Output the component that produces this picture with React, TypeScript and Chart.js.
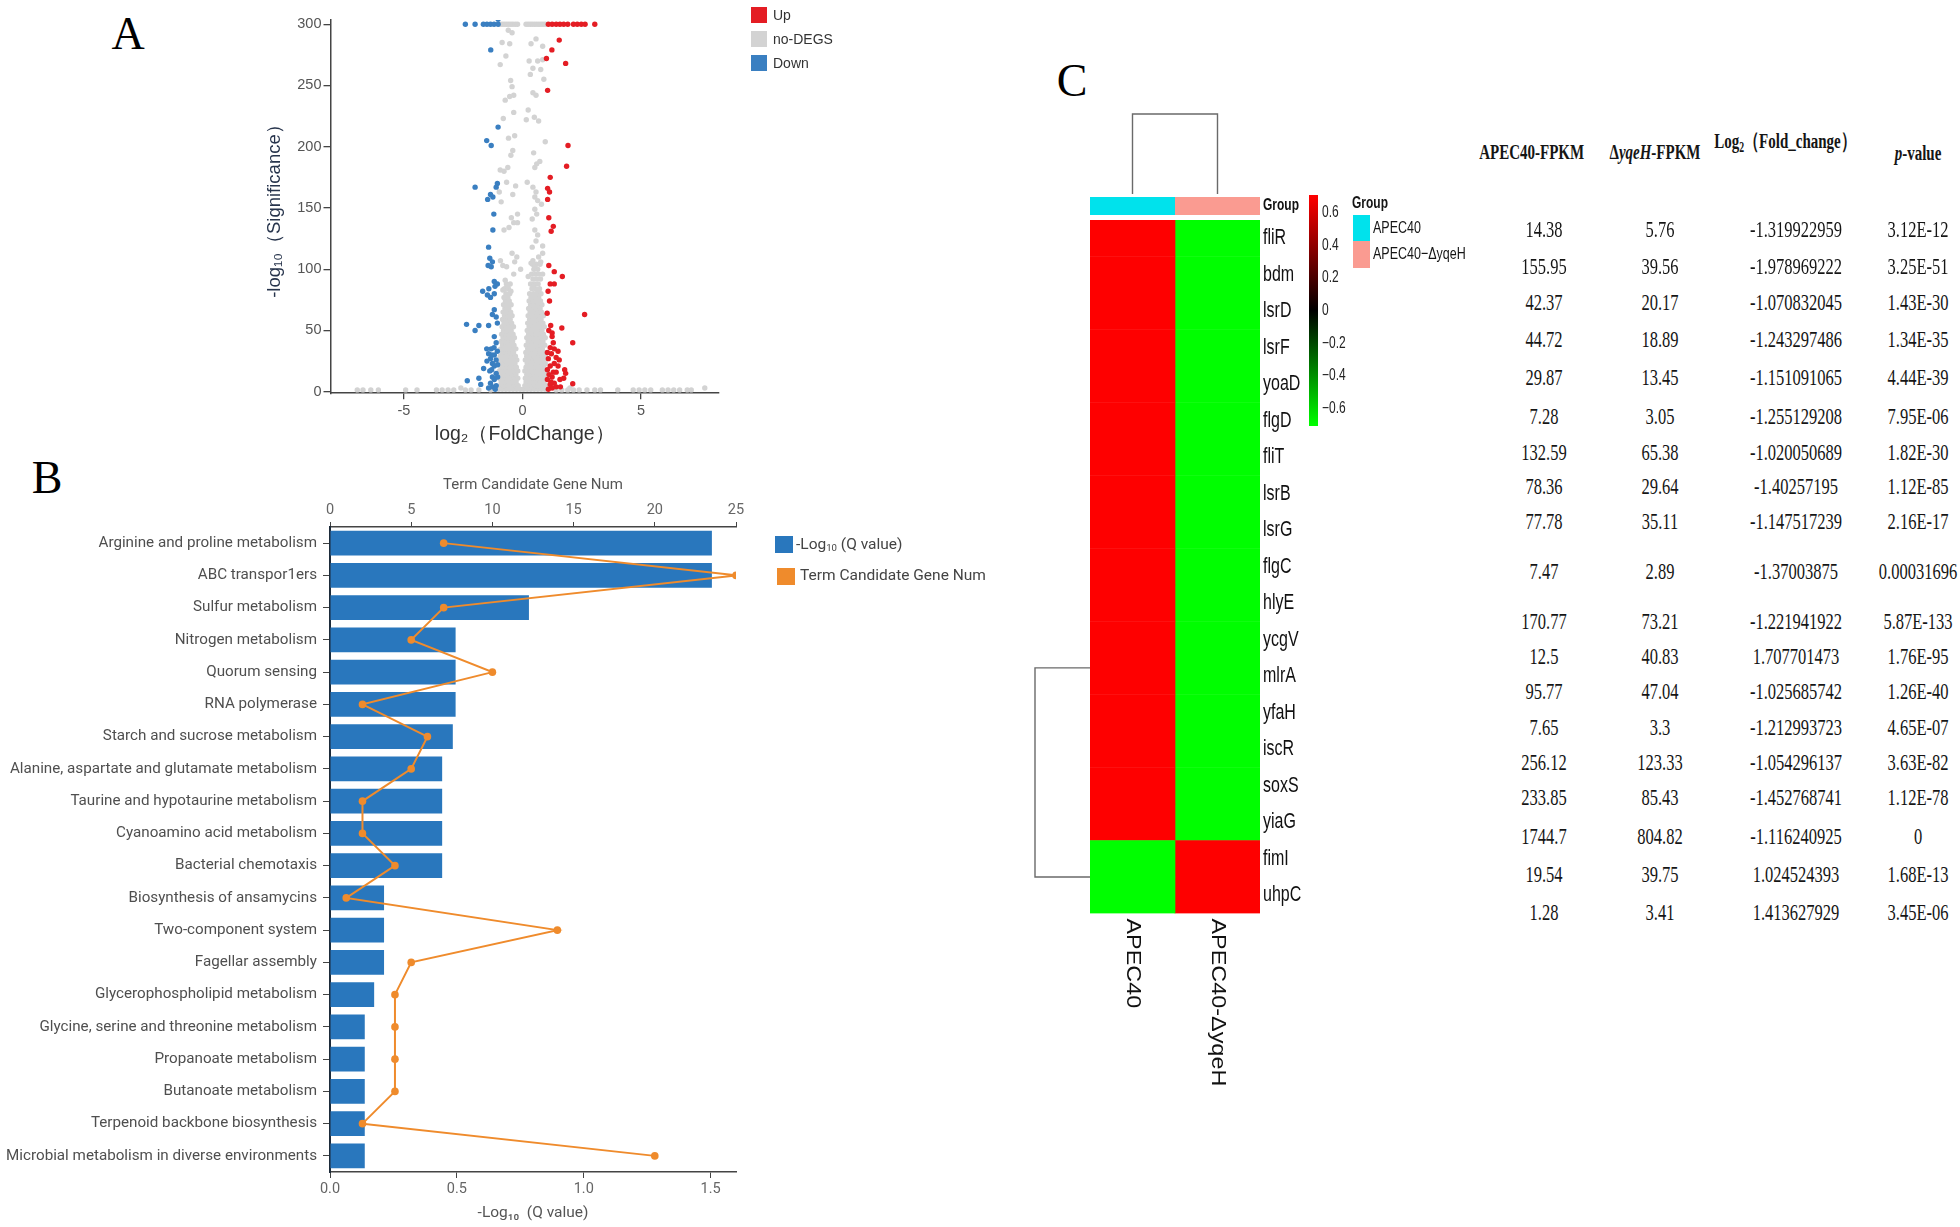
import React, { useEffect, useRef } from 'react';
import { Chart, registerables } from 'chart.js';

Chart.register(...registerables);

/* ================= Panel A : volcano plot ================= */
const volcanoLegend = ['Up', 'no-DEGS', 'Down'];
const volcanoXTicks = [-5, 0, 5];
const volcanoYTicks = [0, 50, 100, 150, 200, 250, 300];

const upPoints: [number, number][] = [
  [1.09, 300], [1.25, 300], [1.42, 300], [1.58, 300], [1.74, 300], [1.91, 300], [2.15, 300], [2.31, 300], [2.48, 300], [2.64, 300], [3.05, 300],
  [1.55, 287], [1.24, 279], [1.82, 268], [1.01, 272], [1.06, 246], [1.92, 201], [1.86, 184], [1.17, 175], [1.06, 166], [1.14, 163], [1.06, 157],
  [1.11, 142], [1.3, 135], [1.21, 131], [1.11, 103], [1.34, 98], [1.68, 94], [1.17, 88], [1.34, 88], [1.08, 82], [1.14, 74], [1.04, 64], [2.62, 63],
  [1.19, 54], [1.11, 50], [1.25, 48], [1.66, 52], [1.25, 45], [2.12, 40], [1.3, 40],
  [1.17, 36], [1.34, 35], [1.22, 31], [1.09, 27], [1.42, 28], [1.55, 26], [1.34, 23], [1.17, 21], [1.5, 21], [1.78, 18], [1.82, 15], [1.42, 16],
  [1.25, 12], [1.58, 10], [1.34, 7], [1.17, 6], [1.74, 11], [2.12, 6.5], [1.42, 4], [1.25, 3], [1.09, 2], [1.05, 10], [1.05, 18], [1.05, 32],
  [1.5, 33], [1.2, 8], [1.3, 16], [1.12, 14], [1.6, 4],
];

const downPoints: [number, number][] = [
  [-2.41, 300], [-2.0, 300], [-1.65, 300], [-1.5, 300], [-1.35, 300], [-1.2, 300], [-1.03, 300], [-1.03, 304],
  [-1.34, 279], [-1.03, 216], [-1.51, 205], [-1.32, 201], [-2.0, 167], [-1.06, 170], [-1.11, 167], [-1.35, 161], [-1.25, 159], [-1.47, 157],
  [-1.21, 145], [-1.25, 132], [-1.43, 118], [-1.38, 109], [-1.27, 106], [-1.45, 103], [-1.32, 102], [-1.19, 90], [-1.06, 88], [-1.16, 86],
  [-1.42, 84], [-1.68, 82], [-1.48, 79], [-1.19, 80], [-1.35, 77], [-1.19, 67], [-1.27, 63], [-1.11, 61], [-2.36, 55], [-1.84, 54], [-2.0, 50],
  [-1.43, 54], [-1.06, 56], [-1.19, 45], [-1.11, 40], [-1.51, 35], [-1.32, 35], [-1.06, 33], [-1.43, 31], [-1.19, 30], [-1.35, 27], [-1.11, 26],
  [-1.27, 23], [-1.64, 19], [-1.19, 21], [-1.38, 17], [-1.11, 15], [-1.27, 12], [-1.84, 11], [-2.33, 9], [-1.19, 10], [-1.35, 7], [-1.76, 6],
  [-1.11, 5], [-1.27, 4], [-1.43, 3], [-1.05, 12], [-1.05, 22], [-1.2, 36], [-1.3, 30], [-1.15, 2], [-1.3, 18], [-1.5, 25],
];

// gray (no-DEGS) points, listed as rows: [significance, log2 fold changes]
const grayRows: [number, number[]][] = [
  [300, [-0.94, -0.85, -0.76, -0.67, -0.58, -0.49, -0.4, -0.3, -0.21, 0.15, 0.24, 0.33, 0.42, 0.51, 0.6, 0.69, 0.78, 0.87, 0.96]],
  [1.5, [-6.97, -6.73, -6.4, -6.08, -4.93, -4.45, -3.63, -3.39, -3.14, -2.9, -2.41, -2.17, -1.84, -1.35, 1.42, 1.66, 1.91, 2.15, 2.39, 2.72, 3.05, 3.29, 4.02, 4.67, 4.92, 5.16, 5.41, 5.9, 6.14, 6.38, 6.63, 6.95, 7.12]],
  [3, [7.69, -2.6, 2.0]],
  [2, [-1.0, -0.85, -0.7, -0.55, -0.4, -0.25, -0.1, 0.05, 0.2, 0.35, 0.5, 0.65, 0.8, 0.95]],
  [5, [-0.95, -0.8, -0.62, -0.48, -0.33, -0.18, 0.1, 0.25, 0.4, 0.55, 0.7, 0.85, 1.0]],
  [8, [-0.9, -0.75, -0.58, -0.42, -0.27, 0.15, 0.3, 0.45, 0.6, 0.75, 0.9]],
  [11, [-0.98, -0.82, -0.66, -0.5, -0.34, -0.2, 0.12, 0.22, 0.38, 0.52, 0.68, 0.83, 0.97]],
  [14, [-0.92, -0.76, -0.6, -0.44, -0.28, 0.18, 0.33, 0.48, 0.62, 0.78, 0.92]],
  [17, [-0.97, -0.8, -0.65, -0.5, -0.35, -0.2, 0.1, 0.25, 0.42, 0.56, 0.7, 0.86, 0.99]],
  [20, [-0.9, -0.74, -0.57, -0.42, -0.26, 0.15, 0.3, 0.46, 0.6, 0.76, 0.9]],
  [23, [-0.96, -0.8, -0.64, -0.48, -0.32, 0.2, 0.36, 0.52, 0.66, 0.82, 0.96]],
  [26, [-0.88, -0.72, -0.56, -0.4, -0.24, 0.12, 0.28, 0.44, 0.58, 0.74, 0.9]],
  [29, [-0.94, -0.78, -0.62, -0.46, -0.3, 0.18, 0.34, 0.5, 0.64, 0.8, 0.95]],
  [32, [-0.86, -0.7, -0.54, -0.38, 0.14, 0.3, 0.46, 0.6, 0.76, 0.92]],
  [35, [-0.92, -0.76, -0.6, -0.44, -0.28, 0.22, 0.38, 0.54, 0.68, 0.84]],
  [38, [-0.84, -0.68, -0.52, -0.36, 0.16, 0.32, 0.48, 0.62, 0.78, 0.94]],
  [41, [-0.9, -0.74, -0.58, -0.42, 0.24, 0.4, 0.56, 0.7, 0.86]],
  [44, [-0.82, -0.66, -0.5, -0.34, 0.18, 0.34, 0.5, 0.64, 0.8, 0.96]],
  [47, [-0.88, -0.72, -0.56, -0.4, 0.26, 0.42, 0.58, 0.72, 0.88]],
  [50, [-0.8, -0.64, -0.48, 0.2, 0.36, 0.52, 0.66, 0.82]],
  [53, [-0.86, -0.7, -0.54, -0.38, 0.28, 0.44, 0.6, 0.76, 0.92]],
  [56, [-0.78, -0.62, -0.46, 0.22, 0.38, 0.54, 0.7, 0.86]],
  [59, [-0.84, -0.68, -0.52, 0.3, 0.46, 0.62, 0.78]],
  [62, [-0.76, -0.6, -0.44, 0.24, 0.4, 0.56, 0.72, 0.88]],
  [65, [-0.82, -0.66, -0.5, 0.32, 0.48, 0.64, 0.8]],
  [68, [-0.74, -0.58, 0.26, 0.42, 0.58, 0.74]],
  [71, [-0.8, -0.64, -0.48, 0.34, 0.5, 0.66, 0.82]],
  [74, [-0.72, -0.56, 0.28, 0.44, 0.6, 0.76]],
  [77, [-0.78, -0.62, 0.36, 0.52, 0.68]],
  [80, [-0.7, -0.54, 0.3, 0.46, 0.62, 0.78]],
  [84, [-0.76, -0.6, 0.4, 0.56, 0.72]],
  [88, [-0.68, -0.52, 0.34, 0.5, 0.66]],
  [92, [0.44, 0.6, 0.76]],
  [96, [0.38, 0.54, 0.7]],
  [100, [0.48, 0.64]],
  [104, [0.42, 0.58, 0.74]],
];

const grayScatter: [number, number][] = [
  [-0.6, 295], [-0.44, 293], [-0.86, 285], [-0.54, 284], [0.36, 284], [0.57, 288], [0.85, 282], [-0.94, 267], [-0.7, 274], [0.28, 270],
  [0.64, 270], [0.85, 271], [0.44, 264], [0.77, 263], [0.33, 259], [0.9, 255], [-0.5, 254], [-0.44, 249], [-0.54, 241], [-0.37, 242],
  [-0.73, 238], [0.44, 244], [0.57, 242], [-0.37, 228], [-0.81, 223], [0.24, 230], [0.16, 222], [0.5, 224], [0.68, 221], [-0.59, 207],
  [-0.33, 209], [0.96, 204], [-0.41, 197], [-0.49, 193], [0.47, 195], [0.73, 188], [0.6, 186], [0.52, 183], [-0.94, 181], [-0.78, 180],
  [-0.62, 183], [-0.67, 171], [-0.29, 168], [0.2, 171], [0.44, 167], [0.57, 163], [0.52, 159], [0.64, 156], [0.8, 153], [-0.98, 163],
  [-0.9, 155], [-0.41, 161], [0.52, 149], [0.6, 145], [0.41, 141], [-0.21, 145], [-0.47, 142], [-0.78, 132], [-0.57, 134], [-0.37, 138],
  [-0.21, 138], [0.52, 132], [0.64, 128], [0.57, 123], [0.41, 118], [0.85, 119], [-0.93, 107], [-0.83, 103], [-0.67, 102], [-0.44, 113],
  [-0.24, 110], [-0.33, 106], [0.36, 105], [0.52, 102], [0.77, 106], [0.85, 113], [0.68, 110], [0.44, 107], [0.24, 94], [-0.08, 100],
  [-0.37, 96], [-0.73, 91], [0.85, 96], [-0.62, 86], [-0.83, 83], [-0.49, 82], [0.44, 86], [0.68, 83], [0.57, 80],
];

/* ================= Panel B : KEGG enrichment ================= */
const pathways = [
  'Arginine and proline metabolism', 'ABC transpor1ers', 'Sulfur metabolism', 'Nitrogen metabolism', 'Quorum sensing',
  'RNA polymerase', 'Starch and sucrose metabolism', 'Alanine, aspartate and glutamate metabolism', 'Taurine and hypotaurine metabolism',
  'Cyanoamino acid metabolism', 'Bacterial chemotaxis', 'Biosynthesis of ansamycins', 'Two-component system', 'Fagellar assembly',
  'Glycerophospholipid metabolism', 'Glycine, serine and threonine metabolism', 'Propanoate metabolism', 'Butanoate metabolism',
  'Terpenoid backbone biosynthesis', 'Microbial metabolism in diverse environments',
];
const negLog10Q = [1.505, 1.505, 0.784, 0.495, 0.495, 0.495, 0.484, 0.442, 0.442, 0.442, 0.442, 0.213, 0.213, 0.213, 0.174, 0.137, 0.137, 0.137, 0.137, 0.137];
const geneNum = [7, 25, 7, 5, 10, 2, 6, 5, 2, 2, 4, 1, 14, 5, 4, 4, 4, 4, 2, 20];
const qTicksStep = 0.5;
const geneTicksStep = 5;

/* ================= Panel C : heatmap + table ================= */
const genes = ['fliR', 'bdm', 'lsrD', 'lsrF', 'yoaD', 'flgD', 'fliT', 'lsrB', 'lsrG', 'flgC', 'hlyE', 'ycgV', 'mlrA', 'yfaH', 'iscR', 'soxS', 'yiaG', 'fimI', 'uhpC'];
const sampleLabels = ['APEC40', 'APEC40-ΔyqeH'];
const groupNames = ['APEC40', 'APEC40−ΔyqeH'];
const zAPEC40 = [0.707, 0.707, 0.707, 0.707, 0.707, 0.707, 0.707, 0.707, 0.707, 0.707, 0.707, 0.707, 0.707, 0.707, 0.707, 0.707, 0.707, -0.707, -0.707];
const zMutant = [-0.707, -0.707, -0.707, -0.707, -0.707, -0.707, -0.707, -0.707, -0.707, -0.707, -0.707, -0.707, -0.707, -0.707, -0.707, -0.707, -0.707, 0.707, 0.707];
const rowTreeJoins = [11.77, 17.5];
const colorbarRange = [-0.71, 0.71];
const colorbarTicks = [0.6, 0.4, 0.2, 0, -0.2, -0.4, -0.6];

const apecFPKM = ['14.38', '155.95', '42.37', '44.72', '29.87', '7.28', '132.59', '78.36', '77.78', '7.47', '170.77', '12.5', '95.77', '7.65', '256.12', '233.85', '1744.7', '19.54', '1.28'];
const mutFPKM = ['5.76', '39.56', '20.17', '18.89', '13.45', '3.05', '65.38', '29.64', '35.11', '2.89', '73.21', '40.83', '47.04', '3.3', '123.33', '85.43', '804.82', '39.75', '3.41'];
const log2FC = ['-1.319922959', '-1.978969222', '-1.070832045', '-1.243297486', '-1.151091065', '-1.255129208', '-1.020050689', '-1.40257195', '-1.147517239', '-1.37003875', '-1.221941922', '1.707701473', '-1.025685742', '-1.212993723', '-1.054296137', '-1.452768741', '-1.116240925', '1.024524393', '1.413627929'];
const pValues = ['3.12E-12', '3.25E-51', '1.43E-30', '1.34E-35', '4.44E-39', '7.95E-06', '1.82E-30', '1.12E-85', '2.16E-17', '0.00031696', '5.87E-133', '1.76E-95', '1.26E-40', '4.65E-07', '3.63E-82', '1.12E-78', '0', '1.68E-13', '3.45E-06'];

/* ================= styles / layout ================= */
const SANS = '"Liberation Sans", Arial, Helvetica, sans-serif';
const ROBOTO = 'Roboto, "Liberation Sans", Arial, sans-serif';
const SERIF = '"Liberation Serif", "Times New Roman", serif';
const RED = '#e41d24';
const BLUE = '#3a7fc1';
const GRAY = '#d3d3d3';
const BAR_BLUE = '#2977bd';
const ORANGE = '#ef8b2c';
const GROUP_COLORS = ['#00e2ec', '#fa9b91'];

const tableColCenters = [1544, 1660, 1796, 1918];
const tableRowY = [230, 266.7, 303.3, 340, 378.3, 416.7, 453.3, 487, 522, 571.7, 622, 656.7, 691.7, 728.3, 763.3, 798.3, 836.7, 875, 913.3];

function zToColor(v: number) {
  const t = Math.max(0, Math.min(1, (v - colorbarRange[0]) / (colorbarRange[1] - colorbarRange[0])));
  if (t < 0.5) return `rgb(0,${Math.round(255 * (1 - t / 0.5))},0)`;
  return `rgb(${Math.round(255 * ((t - 0.5) / 0.5))},0,0)`;
}

function drawStretched(ctx: CanvasRenderingContext2D, text: string, x: number, y: number, font: string, sy: number, color: string) {
  ctx.save();
  ctx.translate(x, y);
  ctx.scale(1, sy);
  ctx.font = font;
  ctx.fillStyle = color;
  ctx.textAlign = 'left';
  ctx.textBaseline = 'middle';
  ctx.fillText(text, 0, 0);
  ctx.restore();
}

const heatDecor = {
  id: 'heatDecor',
  afterDraw(chart: any) {
    const { ctx, chartArea, scales } = chart;
    const { left, right, top, bottom } = chartArea;
    const xs = scales.x;
    const ys = scales.y;
    ctx.save();
    sampleLabels.forEach((_, i) => {
      const x0 = xs.getPixelForValue(i);
      const x1 = xs.getPixelForValue(i + 1);
      ctx.fillStyle = GROUP_COLORS[i];
      ctx.fillRect(x0, top - 23, x1 - x0, 18);
    });
    ctx.strokeStyle = '#6a6a6a';
    ctx.lineWidth = 1.4;
    const c0 = xs.getPixelForValue(0.5);
    const c1 = xs.getPixelForValue(1.5);
    ctx.beginPath();
    ctx.moveTo(c0, top - 26);
    ctx.lineTo(c0, top - 106);
    ctx.lineTo(c1, top - 106);
    ctx.lineTo(c1, top - 26);
    ctx.stroke();
    const yA = ys.getPixelForValue(rowTreeJoins[0]);
    const yB = ys.getPixelForValue(rowTreeJoins[1]);
    ctx.beginPath();
    ctx.moveTo(left, yA);
    ctx.lineTo(left - 55, yA);
    ctx.lineTo(left - 55, yB);
    ctx.lineTo(left, yB);
    ctx.stroke();
    drawStretched(ctx, 'Group', right + 3, top - 14, 'bold 12px ' + SANS, 1.35, '#111');
    genes.forEach((g, i) => drawStretched(ctx, g, right + 3, ys.getPixelForValue(i), '16px ' + SANS, 1.4, '#111'));
    sampleLabels.forEach((s, i) => {
      ctx.save();
      ctx.translate(xs.getPixelForValue(i + 0.5), bottom + 5);
      ctx.rotate(Math.PI / 2);
      ctx.scale(1.17, 1);
      ctx.font = '20px ' + SANS;
      ctx.fillStyle = '#111';
      ctx.textAlign = 'left';
      ctx.textBaseline = 'middle';
      ctx.fillText(s, 0, 0);
      ctx.restore();
    });
    ctx.restore();
  },
};

const colorbarLabels = {
  id: 'colorbarLabels',
  afterDraw(chart: any) {
    const { ctx, chartArea, scales } = chart;
    colorbarTicks.forEach((v) => {
      const txt = Math.abs(v) < 1e-9 ? '0' : v < 0 ? '−' + Math.abs(v).toFixed(1) : v.toFixed(1);
      drawStretched(ctx, txt, chartArea.right + 4, scales.y.getPixelForValue(v), '12px ' + SANS, 1.35, '#222');
    });
  },
};

export default function App() {
  const refA = useRef<HTMLCanvasElement>(null);
  const refB = useRef<HTMLCanvasElement>(null);
  const refC = useRef<HTMLCanvasElement>(null);
  const refCB = useRef<HTMLCanvasElement>(null);

  useEffect(() => {
    const charts: Chart[] = [];
    const toXY = (p: [number, number][]) => p.map(([x, y]) => ({ x, y }));
    const grayData = grayRows.flatMap(([y, xs]) => xs.map((x) => ({ x, y }))).concat(toXY(grayScatter));
    const pt = (color: string) => ({ backgroundColor: color, borderWidth: 0, pointRadius: 2.7, pointHoverRadius: 2.7, pointHitRadius: 0 });

    charts.push(new Chart(refA.current!, {
      type: 'scatter',
      data: {
        datasets: [
          { label: 'Up', data: toXY(upPoints), ...pt(RED) },
          { label: 'Down', data: toXY(downPoints), ...pt(BLUE) },
          { label: 'no-DEGS', data: grayData, ...pt(GRAY) },
        ],
      },
      options: {
        responsive: false,
        animation: false,
        layout: { padding: { left: 0, right: 41, top: 19.9, bottom: 0 } },
        plugins: { legend: { display: false }, tooltip: { enabled: false } },
        scales: {
          x: {
            type: 'linear', position: 'bottom', min: -8.1, max: 8.29,
            afterBuildTicks: (s: any) => { s.ticks = volcanoXTicks.map((value) => ({ value })); },
            afterFit: (s: any) => { s.height = 56.8; },
            grid: { drawOnChartArea: false, drawTicks: true, tickLength: 6, color: '#444', lineWidth: 1.3 },
            border: { color: '#444', width: 1.5 },
            ticks: { color: '#555', font: { family: SANS, size: 14.5 }, padding: 3, maxRotation: 0 },
            title: { display: true, text: 'log₂（FoldChange）', color: '#333', font: { family: SANS, size: 19.5 }, padding: { top: 0, bottom: 4 } },
          },
          y: {
            type: 'linear', position: 'left', min: -1.2, max: 303.5,
            afterBuildTicks: (s: any) => { s.ticks = volcanoYTicks.map((value) => ({ value })); },
            afterFit: (s: any) => { s.width = 130.5; },
            grid: { drawOnChartArea: false, drawTicks: true, tickLength: 7, color: '#444', lineWidth: 1.3 },
            border: { color: '#444', width: 1.5 },
            ticks: { color: '#555', font: { family: SANS, size: 14.5 }, padding: 2 },
            title: { display: true, text: '-log₁₀（Significance）', color: '#27344c', font: { family: SANS, size: 18.5 }, padding: { top: 64, bottom: 0 } },
          },
        },
      },
    } as any));

    charts.push(new Chart(refB.current!, {
      type: 'bar',
      data: {
        labels: pathways,
        datasets: [
          {
            type: 'line', label: 'Term Candidate Gene Num', data: geneNum, xAxisID: 'x2', yAxisID: 'y', indexAxis: 'y',
            borderColor: ORANGE, backgroundColor: ORANGE, borderWidth: 2, pointRadius: 3.8, pointBorderWidth: 0,
            pointBackgroundColor: ORANGE, tension: 0, fill: false,
          },
          {
            type: 'bar', label: '-Log10 (Q value)', data: negLog10Q, xAxisID: 'x', yAxisID: 'y',
            backgroundColor: BAR_BLUE, borderWidth: 0, barPercentage: 0.76, categoryPercentage: 1,
          },
        ],
      },
      options: {
        indexAxis: 'y',
        responsive: false,
        animation: false,
        layout: { padding: { left: 0, right: 44, top: 0, bottom: 0 } },
        plugins: { legend: { display: false }, tooltip: { enabled: false } },
        scales: {
          x: {
            type: 'linear', position: 'bottom', min: 0, max: 1.6,
            ticks: { stepSize: qTicksStep, includeBounds: false, callback: (v: any) => Number(v).toFixed(1), color: '#666', font: { family: ROBOTO, size: 14.5 }, padding: 3 },
            grid: { drawOnChartArea: false, tickLength: 6, color: '#444' },
            border: { color: '#444', width: 1.5 },
            afterFit: (s: any) => { s.height = 55; },
            title: { display: true, text: '-Log₁₀  (Q value)', color: '#555', font: { family: ROBOTO, size: 15.5 }, padding: { top: 0, bottom: 5 } },
          },
          x2: {
            type: 'linear', position: 'top', min: 0, max: 25,
            ticks: { stepSize: geneTicksStep, includeBounds: false, color: '#666', font: { family: ROBOTO, size: 14.5 }, padding: 3 },
            grid: { drawOnChartArea: false, tickLength: 5, color: '#444' },
            border: { color: '#444', width: 1.5 },
            afterFit: (s: any) => { s.height = 57; },
            title: { display: true, text: 'Term Candidate Gene Num', color: '#555', font: { family: ROBOTO, size: 15 }, padding: { top: 6, bottom: 0 } },
          },
          y: {
            type: 'category', position: 'left', offset: true,
            grid: { drawOnChartArea: false, tickLength: 7, color: '#444', offset: false },
            border: { color: '#1d2b3a', width: 2 },
            ticks: { color: '#4f4f4f', font: { family: ROBOTO, size: 15.2 }, padding: 6, autoSkip: false },
            afterFit: (s: any) => { s.width = 330; },
          },
        },
      },
    } as any));

    const zCols = [zAPEC40, zMutant];
    charts.push(new Chart(refC.current!, {
      type: 'bar',
      data: {
        labels: genes,
        datasets: sampleLabels.map((s, si) => ({
          label: s,
          data: genes.map(() => 1),
          backgroundColor: zCols[si].map(zToColor),
          borderWidth: 0,
          barPercentage: 1,
          categoryPercentage: 1,
          stack: 'cells',
        })),
      },
      options: {
        indexAxis: 'y',
        responsive: false,
        animation: false,
        layout: { padding: { left: 90, right: 0, top: 120, bottom: 206.5 } },
        plugins: { legend: { display: false }, tooltip: { enabled: false } },
        scales: {
          x: { type: 'linear', stacked: true, min: 0, max: sampleLabels.length, display: false },
          y: {
            type: 'category', stacked: true, position: 'right', offset: true,
            grid: { display: false }, border: { display: false }, ticks: { display: false },
            afterFit: (s: any) => { s.width = 50; },
          },
        },
      },
      plugins: [heatDecor],
    } as any));

    charts.push(new Chart(refCB.current!, {
      type: 'bar',
      data: {
        labels: ['z'],
        datasets: [{
          data: [colorbarRange],
          backgroundColor: (c: any) => {
            const area = c.chart.chartArea;
            if (!area) return '#000';
            const g = c.chart.ctx.createLinearGradient(0, area.bottom, 0, area.top);
            g.addColorStop(0, zToColor(colorbarRange[0]));
            g.addColorStop(0.5, zToColor(0));
            g.addColorStop(1, zToColor(colorbarRange[1]));
            return g;
          },
          borderWidth: 0, barPercentage: 1, categoryPercentage: 1,
        }],
      },
      options: {
        responsive: false,
        animation: false,
        layout: { padding: { left: 9, right: 0, top: 15, bottom: 14 } },
        plugins: { legend: { display: false }, tooltip: { enabled: false } },
        scales: {
          x: { display: false },
          y: {
            min: colorbarRange[0], max: colorbarRange[1], position: 'right',
            grid: { display: false }, border: { display: false }, ticks: { display: false },
            afterFit: (s: any) => { s.width = 62; },
          },
        },
      },
      plugins: [colorbarLabels],
    } as any));

    return () => charts.forEach((c) => c.destroy());
  }, []);

  const abs = (o: any) => ({ position: 'absolute', ...o });
  const panelLabel = (t: string, cx: number, cy: number) => (
    <div style={abs({ left: cx - 50, top: cy - 23, width: 100, textAlign: 'center', fontFamily: SERIF, fontSize: 46, lineHeight: 1, color: '#000' })}>{t}</div>
  );
  const legendColors = [RED, GRAY, BLUE];
  const cell = (content: any, cx: number, cy: number, extra: any = {}) => (
    <div style={abs({
      left: cx - 90, top: cy, width: 180, textAlign: 'center', whiteSpace: 'nowrap', fontFamily: SERIF, fontSize: 16.5,
      lineHeight: 1, color: '#151515', transform: 'translateY(-50%) scaleY(1.45)', ...extra,
    })}>{content}</div>
  );
  const headStyle = { fontWeight: 'bold', fontSize: 15 };
  const stretchText = (content: any, left: number, cy: number, extra: any = {}) => (
    <div style={abs({ left, top: cy, whiteSpace: 'nowrap', fontFamily: SANS, fontSize: 12.5, lineHeight: 1, color: '#151515', transform: 'translateY(-50%) scaleY(1.35)', transformOrigin: 'left center', ...extra })}>{content}</div>
  );

  return (
    <div style={abs({ left: 0, top: 0, width: 1960, height: 1227, background: '#fff', overflow: 'hidden' })}>
      {panelLabel('A', 128, 34)}
      {panelLabel('B', 47, 478)}
      {panelLabel('C', 1072, 81)}

      <canvas ref={refA} width={560} height={450} style={abs({ left: 200, top: 0, width: 560, height: 450 })} />
      {volcanoLegend.map((l, i) => (
        <React.Fragment key={l}>
          <div style={abs({ left: 751, top: 6.7 + i * 24.2, width: 16, height: 16, background: legendColors[i] })} />
          <div style={abs({ left: 773, top: 14.7 + i * 24.2, transform: 'translateY(-50%)', fontFamily: SANS, fontSize: 14, lineHeight: 1, color: '#333', whiteSpace: 'nowrap' })}>{l}</div>
        </React.Fragment>
      ))}

      <canvas ref={refB} width={780} height={757} style={abs({ left: 0, top: 470, width: 780, height: 757 })} />
      <div style={abs({ left: 775, top: 536, width: 18, height: 17, background: BAR_BLUE })} />
      <div style={abs({ left: 796, top: 545, transform: 'translateY(-50%)', fontFamily: ROBOTO, fontSize: 15.5, lineHeight: 1, color: '#444', whiteSpace: 'nowrap' })}>-Log<sub style={{ fontSize: '0.62em', verticalAlign: '-0.2em' }}>10</sub> (Q value)</div>
      <div style={abs({ left: 777, top: 568, width: 18, height: 17, background: ORANGE })} />
      <div style={abs({ left: 800, top: 576, transform: 'translateY(-50%)', fontFamily: ROBOTO, fontSize: 15.5, lineHeight: 1, color: '#444', whiteSpace: 'nowrap' })}>Term Candidate Gene Num</div>

      <canvas ref={refC} width={310} height={1020} style={abs({ left: 1000, top: 100, width: 310, height: 1020 })} />
      <canvas ref={refCB} width={80} height={260} style={abs({ left: 1300, top: 180, width: 80, height: 260 })} />

      {stretchText('Group', 1352, 202.5, { fontWeight: 'bold', fontSize: 12 })}
      {groupNames.map((g, i) => (
        <React.Fragment key={g}>
          <div style={abs({ left: 1353, top: 215 + i * 26.3, width: 16.5, height: 26.3, background: GROUP_COLORS[i] })} />
          {stretchText(g, 1373, 227.5 + i * 26.5)}
        </React.Fragment>
      ))}

      {cell(<span style={headStyle}>APEC40-FPKM</span>, 1531.7, 151.7)}
      {cell(<span style={headStyle}>Δ<i>yqeH</i>-FPKM</span>, 1655, 151.7)}
      {cell(<span style={headStyle}>Log<sub style={{ fontSize: '0.65em', verticalAlign: '-0.25em' }}>2</sub>（Fold_change）</span>, 1785, 141.7)}
      {cell(<span style={headStyle}><i>p</i>-value</span>, 1918, 153)}
      {genes.map((g, i) => (
        <React.Fragment key={g}>
          {cell(apecFPKM[i], tableColCenters[0], tableRowY[i])}
          {cell(mutFPKM[i], tableColCenters[1], tableRowY[i])}
          {cell(log2FC[i], tableColCenters[2], tableRowY[i])}
          {cell(pValues[i], tableColCenters[3], tableRowY[i])}
        </React.Fragment>
      ))}
    </div>
  );
}
